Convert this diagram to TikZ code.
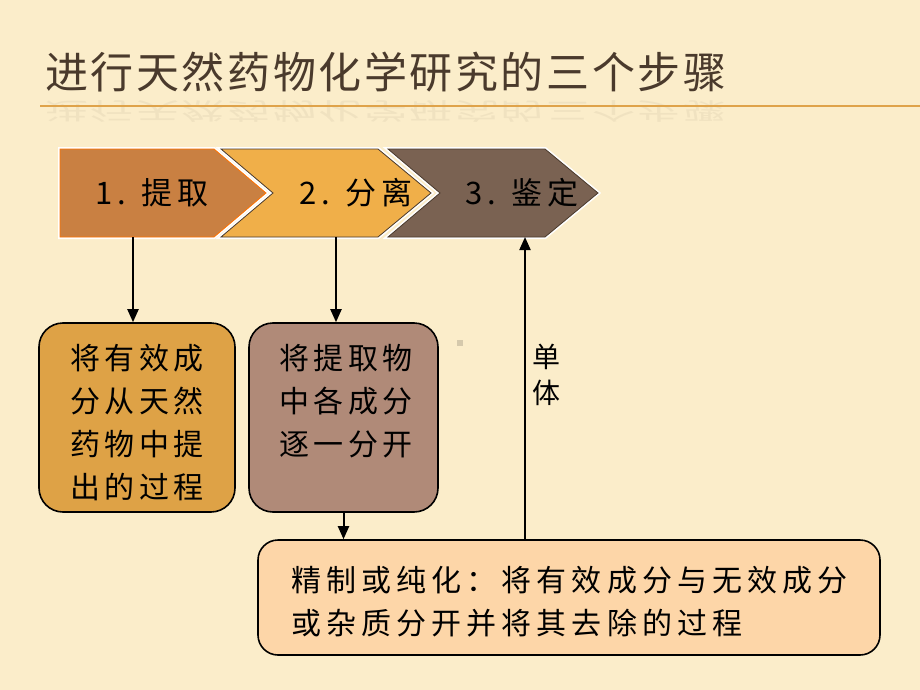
\documentclass[tikz,border=0pt]{standalone}
\usepackage{fontspec}
\newfontfamily\cjk{Noto Sans CJK SC}[LetterSpace=15]
\newfontfamily\cjkwide{Noto Sans CJK SC}[LetterSpace=17]
\newfontfamily\cjktitle{Noto Sans CJK SC}[LetterSpace=6]
\usetikzlibrary{arrows.meta, positioning}

\definecolor{bgcream}{HTML}{FBEDCA}
\definecolor{titlebrown}{HTML}{4A3A2C}
\definecolor{rulegold}{HTML}{DFA34A}
\definecolor{stepone}{HTML}{C98042}
\definecolor{steptwo}{HTML}{F0AF49}
\definecolor{stepthree}{HTML}{7A6252}
\definecolor{extractfill}{HTML}{DEA246}
\definecolor{separatefill}{HTML}{B08A78}
\definecolor{refinefill}{HTML}{FDD6A8}

\begin{document}
\begin{tikzpicture}[x=1pt, y=-1pt,
    chev/.style={line width=0.8pt, line join=miter, preaction={draw=white, line width=4pt}},
    steplabel/.style={font=\cjk\fontsize{31}{36}\selectfont, inner sep=0pt},
    box/.style={rectangle, draw, line width=1.6pt, rounded corners=24pt, minimum height=189pt},
    txt/.style={font=\cjk\fontsize{30}{43}\selectfont, align=center, inner sep=0pt},
    arrow/.style={-{Triangle[length=13pt, width=11pt]}, line width=2pt}
  ]
  \fill[bgcream] (0,0) rectangle (920,690);
  \useasboundingbox (0,0) rectangle (920,690);

  % title with faint reflection
  \node[font=\cjktitle\fontsize{43}{48}\selectfont, text=titlebrown, anchor=west, inner sep=0pt] (title) at (45,72) {进行天然药物化学研究的三个步骤};
  \node[font=\cjktitle\fontsize{43}{48}\selectfont, text=titlebrown, anchor=west, inner sep=0pt, yscale=-0.55, opacity=0.06] (titleshadow) at (45,112) {进行天然药物化学研究的三个步骤};
  \draw[rulegold, line width=2.5pt] (40,106) -- (920,106);

  % three steps
  \draw[chev, fill=stepone, draw=orange!90!red] (60,149) -- (214,149) -- (266,193) -- (214,237) -- (60,237) -- cycle;
  \draw[chev, fill=steptwo, draw=titlebrown] (221,149) -- (378,149) -- (431,193) -- (378,237) -- (221,237) -- (273,193) -- cycle;
  \draw[chev, fill=stepthree, draw=titlebrown] (388,149) -- (545,149) -- (598,193) -- (545,237) -- (388,237) -- (440,193) -- cycle;

  \node[steplabel] (lab1) at (152,193) {1. 提取};
  \node[steplabel] (lab2) at (356,193) {2. 分离};
  \node[steplabel] (lab3) at (522,193) {3. 鉴定};

  \coordinate (step1) at (133,237);
  \coordinate (step2) at (336,237);
  \coordinate (step3) at (525,237);

  % description boxes
  \node[box, fill=extractfill, minimum width=196pt] (extract) at (137,417.5) {};
  \node[txt, anchor=north] (extracttxt) at (137,344) {将有效成\\分从天然\\药物中提\\出的过程};

  \node[box, fill=separatefill, minimum width=189pt] (separate) at (343.5,417.5) {};
  \node[txt, anchor=north] (separatetxt) at (346,344) {将提取物\\中各成分\\逐一分开};

  \node[box, fill=refinefill, minimum width=622pt, minimum height=115pt, rounded corners=20pt] (refine) at (569,597.5) {};
  \node[txt, font=\cjkwide\fontsize{30}{43}\selectfont, align=left, anchor=north west] (refinetxt) at (291,566) {精制或纯化：将有效成分与无效成分\\或杂质分开并将其去除的过程};

  \fill[black!15!bgcream] (457,340) rectangle (463,346);

  % connectors
  \draw[arrow] (step1) -- (step1 |- extract.north);
  \draw[arrow] (step2) -- (step2 |- separate.north);
  \draw[arrow] (separate.south) -- (separate.south |- refine.north);
  \draw[arrow] (refine.north -| step3) -- (step3);
  \node[font=\cjk\fontsize{28}{36}\selectfont, align=center, inner sep=0pt] (monomer) at (546,375) {单\\体};
\end{tikzpicture}
\end{document}
